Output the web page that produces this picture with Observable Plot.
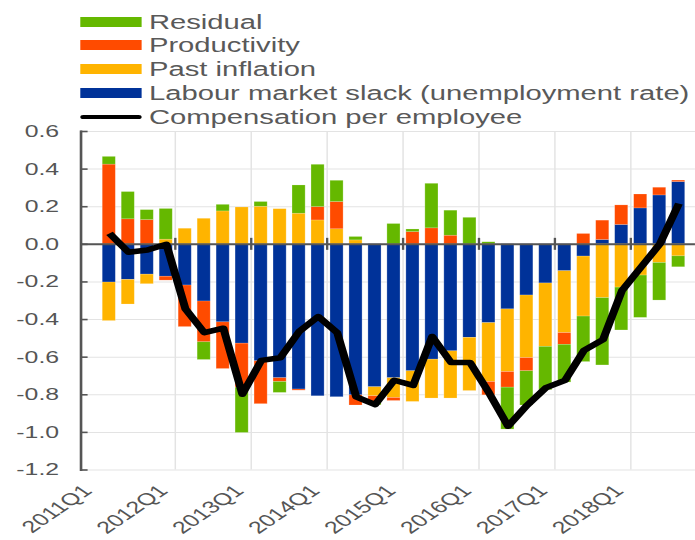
<!DOCTYPE html>
<html><head><meta charset="utf-8">
<script src="https://cdn.jsdelivr.net/npm/d3@7"></script>
<script src="https://cdn.jsdelivr.net/npm/@observablehq/plot@0.6"></script>
<style>
html,body{margin:0;padding:0;background:#fff;overflow:hidden;width:695px;height:540px}
#wrap{width:476px;transform:scaleX(1.46);transform-origin:0 0;font-family:"Liberation Sans",Arial,sans-serif;}
#legend{position:relative;height:120px;z-index:1;}
.sw{position:absolute;left:54.8px;width:42.5px;height:10px;}
.ln{position:absolute;left:54.8px;width:42.5px;height:4px;border-radius:2px;background:#000;}
.lab{position:absolute;left:102px;font-size:20px;color:#595959;line-height:24px;white-space:nowrap;}
#chart svg{display:block;}
</style></head>
<body>
<div id="wrap">
  <div id="legend"></div>
  <div id="chart"></div>
</div>
<script>
const quarters = ["2011Q1","2011Q2","2011Q3","2011Q4","2012Q1","2012Q2","2012Q3","2012Q4",
  "2013Q1","2013Q2","2013Q3","2013Q4","2014Q1","2014Q2","2014Q3","2014Q4",
  "2015Q1","2015Q2","2015Q3","2015Q4","2016Q1","2016Q2","2016Q3","2016Q4",
  "2017Q1","2017Q2","2017Q3","2017Q4","2018Q1","2018Q2","2018Q3"];
const slack = [-0.203,-0.189,-0.161,-0.172,-0.219,-0.304,-0.415,-0.528,
  -0.622,-0.712,-0.772,-0.808,-0.813,-0.803,-0.760,-0.712,
  -0.675,-0.613,-0.569,-0.497,-0.419,-0.346,-0.272,-0.208,
  -0.143,-0.065,0.023,0.103,0.191,0.260,0.331];
const pastInflation = [-0.205,-0.131,-0.051,0.025,0.083,0.136,0.175,0.196,
  0.200,0.187,0.163,0.127,0.080,0.021,-0.048,-0.105,
  -0.163,-0.207,-0.251,-0.283,-0.313,-0.333,-0.333,-0.337,
  -0.329,-0.319,-0.286,-0.230,-0.166,-0.099,-0.064];
const productivity = [0.424,0.133,0.129,-0.021,-0.221,-0.217,-0.248,-0.234,
  -0.228,-0.020,-0.006,0.071,0.145,-0.054,-0.033,-0.016,
  0.065,0.085,0.046,0,-0.071,-0.083,-0.070,0,
  -0.062,0.055,0.103,0.104,0.074,0.041,0.008];
const residual = [0.041,0.145,0.053,0.163,0,-0.094,0.035,-0.241,
  0.025,-0.058,0.150,0.225,0.113,0.018,-0.015,0.108,
  0.014,0.237,0.133,0.141,0.011,-0.223,-0.182,-0.231,
  -0.201,-0.242,-0.358,-0.228,-0.225,-0.200,-0.058];
const compensation = [0.058,-0.042,-0.030,0.000,-0.343,-0.470,-0.446,-0.797,
  -0.617,-0.603,-0.463,-0.384,-0.470,-0.811,-0.852,-0.723,
  -0.750,-0.490,-0.629,-0.629,-0.790,-0.967,-0.856,-0.762,
  -0.723,-0.564,-0.507,-0.246,-0.122,0.002,0.216];
const yTicks = [0.6,0.4,0.2,0,-0.2,-0.4,-0.6,-0.8,-1.0,-1.2];
const yearLabels = ["2011Q1","2012Q1","2013Q1","2014Q1","2015Q1","2016Q1","2017Q1","2018Q1"];
const series = ["Labour market slack (unemployment rate)","Past inflation","Productivity","Residual"];
const colors = ["#003299","#ffb400","#ff4b00","#65b800"];
const legendNames = ["Residual","Productivity","Past inflation","Labour market slack (unemployment rate)"];
const legendColors = ["#65b800","#ff4b00","#ffb400","#003299"];
const lineName = "Compensation per employee";

// legend
const leg = document.getElementById("legend");
const rowY = [21.5,45.3,69.1,92.9,116.7];
legendNames.forEach((n,i)=>{
  const sw = document.createElement("div"); sw.className="sw";
  sw.style.top=(rowY[i]-5)+"px"; sw.style.background=legendColors[i]; leg.appendChild(sw);
  const t = document.createElement("div"); t.className="lab"; t.textContent=n;
  t.style.top=(rowY[i]-12)+"px"; leg.appendChild(t);
});
{
  const ln=document.createElement("div"); ln.className="ln"; ln.style.top=(rowY[4]-2)+"px"; leg.appendChild(ln);
  const t=document.createElement("div"); t.className="lab"; t.textContent=lineName; t.style.top=(rowY[4]-12)+"px"; leg.appendChild(t);
}

const comps = [slack, pastInflation, productivity, residual];
const rows = [];
quarters.forEach((q,i)=>{ series.forEach((s,k)=>rows.push({q, s, v: comps[k][i]})); });
const comp = quarters.map((q,i)=>({q, v: compensation[i]}));
const boundaries = yearLabels.slice(1);

const step = 13.84, x0 = 54.7;
const plot = Plot.plot({
  width: 476, height: 420,
  marginTop: 11, marginBottom: 70.5, marginLeft: 55, marginRight: 0,
  style: {fontFamily: "Liberation Sans, Arial, sans-serif", color: "#555", background: "transparent"},
  x: {type: "band", domain: quarters, range: [x0, x0 + quarters.length*step], paddingInner: 0.28, paddingOuter: 0.14, axis: null},
  y: {domain: [-1.2, 0.6], axis: null},
  color: {domain: series, range: colors},
  marks: [
    Plot.gridY(yTicks, {stroke: "#e3e3e3", strokeOpacity: 1, strokeWidth: 1}),
    Plot.ruleX(boundaries, {x: d=>d, dx: -step/2, y1: yTicks[yTicks.length-1], y2: yTicks[0], stroke: "#e3e3e3", strokeWidth: 1}),
    Plot.barY(rows, Plot.stackY({x: "q", y: "v", z: "s", fill: "s", order: series, stroke: "white", strokeOpacity: 0.35, strokeWidth: 0.5})),
    Plot.ruleY([0], {stroke: "#555", strokeWidth: 2}),
    Plot.ruleX(boundaries, {x: d=>d, dx: -step/2, y1: d=>0, y2: d=>0, insetTop: -6, insetBottom: -6, stroke: "#555", strokeWidth: 1.6}),
    Plot.frame({anchor: "left", stroke: "#555", strokeWidth: 1.8}),
    Plot.axisY(yTicks, {label: null, tickSize: -5, tickPadding: 20, stroke: "#555", strokeWidth: 1.6, fontSize: 17, fill: "#555", tickFormat: d => d.toFixed(1)}),
    Plot.axisX(yearLabels, {label: null, tickSize: 0, tickRotate: -45, tickPadding: 6, dx: -15, dy: 12, fontSize: 17, fill: "#555"}),
    Plot.line(comp, {x: "q", y: "v", stroke: "#000", strokeWidth: 5.5, strokeLinecap: "butt", strokeLinejoin: "round"})
  ]
});
document.getElementById("chart").appendChild(plot);
</script>
</body></html>
